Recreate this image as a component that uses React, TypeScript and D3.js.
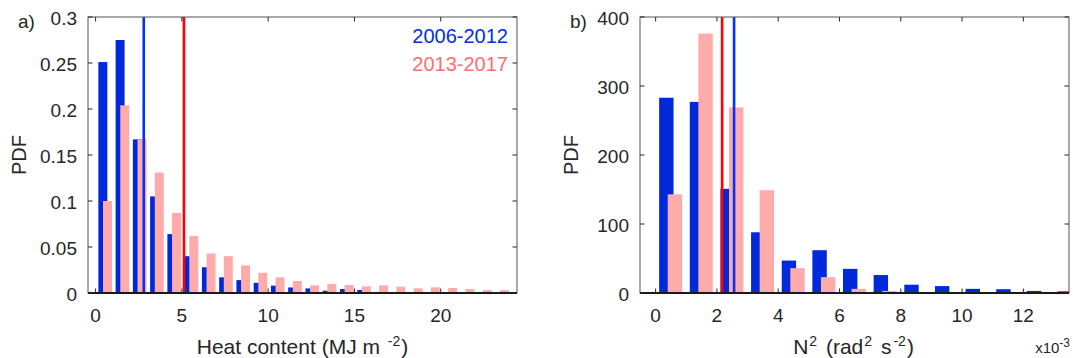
import { useEffect, useRef } from 'react';
import * as d3 from 'd3';

// panel a) heat content histogram, bins of 1 MJ m-2
const heatBins = [0, 1, 2, 3, 4, 5, 6, 7, 8, 9, 10, 11, 12, 13, 14, 15, 16, 17, 18, 19, 20, 21, 22, 23];
const heatEarly = [
  0.251, 0.275, 0.167, 0.105, 0.064, 0.04, 0.028, 0.017, 0.014, 0.011, 0.008, 0.006, 0.005, 0.0025,
  0.0043, 0.0033, 0.0012, 0.0008, 0.0006, 0.0005, 0.0004, 0.0004, 0.0003, 0.0003,
];
const heatLate = [
  0.1, 0.204, 0.167, 0.131, 0.087, 0.062, 0.043, 0.04, 0.03, 0.022, 0.017, 0.013, 0.0083, 0.0098,
  0.0087, 0.0072, 0.0083, 0.0069, 0.0051, 0.0062, 0.0054, 0.0043, 0.0033, 0.0033,
];
const heatMeans = { early: 2.79, late: 5.12 };
const heatXTicks = [0, 5, 10, 15, 20];
const heatYTicks = [0, 0.05, 0.1, 0.15, 0.2, 0.25, 0.3];

// panel b) N^2 histogram, bins of 1e-3 rad2 s-2
const n2Bins = [0, 1, 2, 3, 4, 5, 6, 7, 8, 9, 10, 11, 12, 13];
const n2Early = [283, 277, 151, 88, 47, 62, 35, 26, 12, 10, 6, 5.5, 3, 2.4];
const n2Late = [143, 376, 269, 149, 36, 23, 6, 3, 1, 1, 0.8, 0.5, 0.4, 0];
const n2Means = { early: 2.56, late: 2.17 };
const n2XTicks = [0, 2, 4, 6, 8, 10, 12];
const n2YTicks = [0, 100, 200, 300, 400];

const periods = ['2006-2012', '2013-2017'];

const FONT = '"Liberation Sans", Arial, Helvetica, sans-serif';
const TXT = '#262626';
const BAR_BLUE = '#0029d9';
const BAR_PINK = '#ffabab';
const LINE_BLUE = '#0033ff';
const LINE_RED = '#ff0000';

interface PanelSpec {
  left: number;
  xDomain: [number, number];
  yDomain: [number, number];
  bins: number[];
  early: number[];
  late: number[];
  means: { early: number; late: number };
  xTicks: number[];
  yTicks: number[];
  offsets: [number, number];
  barWidth: number;
  tag: string;
}

export default function App() {
  const svgRef = useRef<SVGSVGElement>(null);

  useEffect(() => {
    if (!svgRef.current) return;
    const svg = d3.select(svgRef.current);
    svg.selectAll('*').remove();

    const top = 17;
    const bottom = 293;
    const plotW = 429;

    const drawPanel = (p: PanelSpec) => {
      const x = d3.scaleLinear().domain(p.xDomain).range([p.left, p.left + plotW]);
      const y = d3.scaleLinear().domain(p.yDomain).range([bottom, top]);
      const g = svg.append('g');

      const clipId = `clip-${p.tag}`;
      g.append('clipPath')
        .attr('id', clipId)
        .append('rect')
        .attr('x', p.left)
        .attr('y', top)
        .attr('width', plotW)
        .attr('height', bottom - top);

      const plot = g.append('g').attr('clip-path', `url(#${clipId})`);

      const bw = x(p.barWidth) - x(0);

      // early bars, then late bars drawn over them
      plot
        .selectAll('.early')
        .data(p.early)
        .join('rect')
        .attr('x', (_, i) => x(p.bins[i] + p.offsets[0]) - bw / 2)
        .attr('y', (d) => y(d))
        .attr('width', bw)
        .attr('height', (d) => bottom - y(d))
        .attr('fill', BAR_BLUE);

      plot
        .selectAll('.late')
        .data(p.late)
        .join('rect')
        .attr('x', (_, i) => x(p.bins[i] + p.offsets[1]) - bw / 2)
        .attr('y', (d) => y(d))
        .attr('width', bw)
        .attr('height', (d) => bottom - y(d))
        .attr('fill', BAR_PINK);

      // mean lines
      plot
        .append('line')
        .attr('x1', x(p.means.early))
        .attr('x2', x(p.means.early))
        .attr('y1', top)
        .attr('y2', bottom)
        .attr('stroke', LINE_BLUE)
        .attr('stroke-width', 2.6);
      plot
        .append('line')
        .attr('x1', x(p.means.late))
        .attr('x2', x(p.means.late))
        .attr('y1', top)
        .attr('y2', bottom)
        .attr('stroke', LINE_RED)
        .attr('stroke-width', 2.6);

      // box
      g.append('rect')
        .attr('x', p.left)
        .attr('y', top)
        .attr('width', plotW)
        .attr('height', bottom - top)
        .attr('fill', 'none')
        .attr('stroke', '#555')
        .attr('stroke-width', 1);

      // baseline
      g.append('line')
        .attr('x1', p.left)
        .attr('x2', p.left + plotW)
        .attr('y1', bottom)
        .attr('y2', bottom)
        .attr('stroke', '#1a1a1a')
        .attr('stroke-width', 1.8);

      const tl = 4.5;
      // x ticks (inward, top and bottom)
      p.xTicks.forEach((t) => {
        const xx = x(t);
        g.append('line').attr('x1', xx).attr('x2', xx).attr('y1', top).attr('y2', top + tl).attr('stroke', TXT);
        g.append('line').attr('x1', xx).attr('x2', xx).attr('y1', bottom).attr('y2', bottom - tl).attr('stroke', TXT);
        g.append('text')
          .attr('x', xx)
          .attr('y', 322)
          .attr('text-anchor', 'middle')
          .attr('font-family', FONT)
          .attr('font-size', 19)
          .attr('fill', TXT)
          .text(d3.format('~g')(t));
      });

      // y ticks (inward, left and right)
      p.yTicks.forEach((t) => {
        const yy = y(t);
        g.append('line').attr('x1', p.left).attr('x2', p.left + tl).attr('y1', yy).attr('y2', yy).attr('stroke', TXT);
        g.append('line')
          .attr('x1', p.left + plotW)
          .attr('x2', p.left + plotW - tl)
          .attr('y1', yy)
          .attr('y2', yy)
          .attr('stroke', TXT);
        g.append('text')
          .attr('x', p.left - 11)
          .attr('y', yy + 8)
          .attr('text-anchor', 'end')
          .attr('font-family', FONT)
          .attr('font-size', 19)
          .attr('fill', TXT)
          .text(d3.format('~g')(t));
      });

      // y label
      g.append('text')
        .attr('transform', `translate(${p.left - 62}, ${(top + bottom) / 2}) rotate(-90)`)
        .attr('text-anchor', 'middle')
        .attr('font-family', FONT)
        .attr('font-size', 20)
        .attr('fill', TXT)
        .text('PDF');

      // panel tag
      g.append('text')
        .attr('x', p.left - 70)
        .attr('y', 28)
        .attr('font-family', FONT)
        .attr('font-size', 19)
        .attr('fill', TXT)
        .text(p.tag + ')');

      return g;
    };

    const ga = drawPanel({
      left: 88,
      xDomain: [-0.44, 24.42],
      yDomain: [0, 0.3],
      bins: heatBins,
      early: heatEarly,
      late: heatLate,
      means: heatMeans,
      xTicks: heatXTicks,
      yTicks: heatYTicks,
      offsets: [0.42, 0.69],
      barWidth: 0.52,
      tag: 'a',
    });

    // legend
    ga.append('text')
      .attr('x', 508)
      .attr('y', 43)
      .attr('text-anchor', 'end')
      .attr('font-family', FONT)
      .attr('font-size', 20)
      .attr('fill', '#0030e0')
      .text(periods[0]);
    ga.append('text')
      .attr('x', 508)
      .attr('y', 71)
      .attr('text-anchor', 'end')
      .attr('font-family', FONT)
      .attr('font-size', 20)
      .attr('fill', '#ff6e6e')
      .text(periods[1]);

    // x label a
    const la = ga
      .append('text')
      .attr('x', 302.5)
      .attr('y', 354)
      .attr('text-anchor', 'middle')
      .attr('font-family', FONT)
      .attr('font-size', 21)
      .attr('fill', TXT);
    la.append('tspan').text('Heat content (MJ m ');
    la.append('tspan').attr('dy', -8).attr('dx', 2).attr('font-size', 14).text('-2');
    la.append('tspan').attr('dy', 8).attr('dx', 1).text(')');

    const gb = drawPanel({
      left: 640,
      xDomain: [-0.51, 13.49],
      yDomain: [0, 400],
      bins: n2Bins,
      early: n2Early,
      late: n2Late,
      means: n2Means,
      xTicks: n2XTicks,
      yTicks: n2YTicks,
      offsets: [0.35, 0.63],
      barWidth: 0.47,
      tag: 'b',
    });

    const lb = gb
      .append('text')
      .attr('x', 853.5)
      .attr('y', 354)
      .attr('text-anchor', 'middle')
      .attr('font-family', FONT)
      .attr('font-size', 21)
      .attr('fill', TXT);
    lb.append('tspan').text('N');
    lb.append('tspan').attr('dy', -8).attr('dx', 1).attr('font-size', 14).text('2');
    lb.append('tspan').attr('dy', 8).attr('dx', 3).text(' (rad');
    lb.append('tspan').attr('dy', -8).attr('dx', 1).attr('font-size', 14).text('2');
    lb.append('tspan').attr('dy', 8).attr('dx', 3).text(' s');
    lb.append('tspan').attr('dy', -8).attr('dx', 2).attr('font-size', 14).text('-2');
    lb.append('tspan').attr('dy', 8).attr('dx', 1).text(')');

    // exponent note
    const ex = gb
      .append('text')
      .attr('x', 1070)
      .attr('y', 353)
      .attr('text-anchor', 'end')
      .attr('font-family', FONT)
      .attr('font-size', 15)
      .attr('fill', TXT);
    ex.append('tspan').text('x10');
    ex.append('tspan').attr('dy', -6).attr('font-size', 12).text('-3');
  }, []);

  return (
    <svg
      ref={svgRef}
      width={1073}
      height={358}
      style={{ position: 'absolute', left: 0, top: 0, background: '#fff' }}
    />
  );
}
